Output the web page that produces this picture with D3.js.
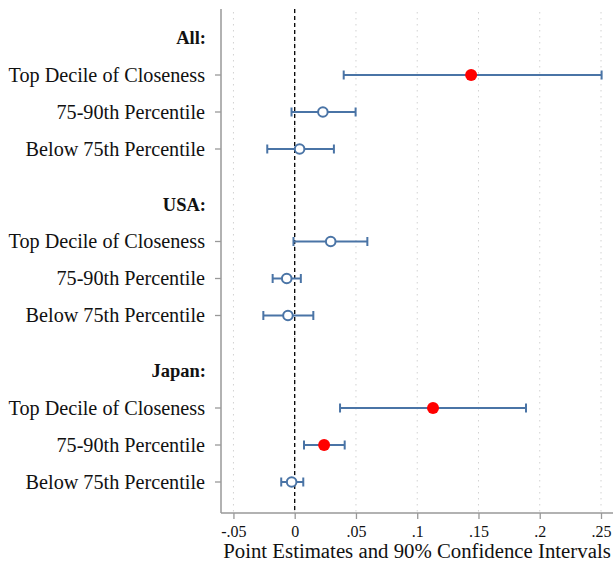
<!DOCTYPE html>
<html><head><meta charset="utf-8">
<script src="https://cdn.jsdelivr.net/npm/d3@7"></script>
<style>
html,body{margin:0;padding:0;background:#fff;}
svg{display:block;}
text{font-family:"Liberation Serif","DejaVu Serif",serif;fill:#111;}
</style></head>
<body>
<script>
// ---- data ----
const groups = ["All:", "USA:", "Japan:"];
const categories = ["Top Decile of Closeness", "75-90th Percentile", "Below 75th Percentile"];
// point estimates, per group (rows = groups, cols = categories)
const estimates = [
  [0.144, 0.023, 0.004],
  [0.0294, -0.0065, -0.0055],
  [0.1129, 0.024, -0.0025]
];
const ciLow = [
  [0.040, -0.0026, -0.0224],
  [-0.001, -0.018, -0.0256],
  [0.037, 0.0076, -0.011]
];
const ciHigh = [
  [0.2505, 0.0497, 0.032],
  [0.0593, 0.005, 0.0152],
  [0.1888, 0.0408, 0.007]
];
// significant at 90% (filled red) vs not (hollow)
const significant = [
  [true, false, false],
  [false, false, false],
  [true, true, false]
];
const xTicks = [-0.05, 0, 0.05, 0.1, 0.15, 0.2, 0.25];
const xTickLabels = ["-.05", "0", ".05", ".1", ".15", ".2", ".25"];
const xTitle = "Point Estimates and 90% Confidence Intervals";

// ---- layout ----
const W = 613, H = 565;
const plotLeft = 221, plotTop = 9, plotBottom = 513;

// build rows: heading then categories; gap of 0.5 slot before later headings
const rows = [];
let u = 0;
groups.forEach((g, gi) => {
  if (gi > 0) u += 0.5;
  rows.push({type: "head", label: g, u: u});
  u += 1;
  categories.forEach((c, ci) => {
    rows.push({type: "cat", label: c, u: u, est: estimates[gi][ci], lo: ciLow[gi][ci], hi: ciHigh[gi][ci], sig: significant[gi][ci]});
    u += 1;
  });
});

const x = d3.scaleLinear().domain([0, 0.25]).range([294.7, 601]);
const y = d3.scaleLinear().domain([0, 12]).range([38, 482]);

const svg = d3.select("body").append("svg").attr("width", W).attr("height", H);

// gridlines
svg.append("g").selectAll("line").data(xTicks).join("line")
  .attr("x1", d => x(d)).attr("x2", d => x(d))
  .attr("y1", plotTop + 3).attr("y2", plotBottom)
  .attr("stroke", "#d2d2d2").attr("stroke-width", 1).attr("stroke-dasharray", "1.5,4.5");

// zero reference line
svg.append("line").attr("x1", x(0)).attr("x2", x(0))
  .attr("y1", plotTop).attr("y2", plotBottom)
  .attr("stroke", "#000").attr("stroke-width", 1.3).attr("stroke-dasharray", "4,3");

// axes
const xAxis = d3.axisBottom(x).tickValues(xTicks)
  .tickFormat((d, i) => xTickLabels[i]).tickSize(6).tickSizeOuter(0);
const gx = svg.append("g").attr("transform", `translate(0,${plotBottom})`).call(xAxis);
gx.select(".domain").remove();
gx.selectAll(".tick line").attr("stroke", "#999").attr("stroke-width", 1.3);
gx.selectAll(".tick text").attr("font-size", 16).attr("dy", "0.95em")
  .attr("font-family", "Liberation Serif, serif").attr("fill", "#111");

svg.append("line").attr("x1", plotLeft).attr("x2", W + 5)
  .attr("y1", plotBottom).attr("y2", plotBottom).attr("stroke", "#999").attr("stroke-width", 1.5);
svg.append("line").attr("x1", plotLeft).attr("x2", plotLeft)
  .attr("y1", plotTop).attr("y2", plotBottom).attr("stroke", "#999").attr("stroke-width", 1.5);

// y ticks and labels
const catRows = rows.filter(r => r.type === "cat");
svg.append("g").selectAll("line").data(catRows).join("line")
  .attr("x1", plotLeft - 6).attr("x2", plotLeft)
  .attr("y1", d => y(d.u)).attr("y2", d => y(d.u))
  .attr("stroke", "#999").attr("stroke-width", 1.3);

svg.append("g").selectAll("text").data(rows).join("text")
  .attr("x", d => d.type === "head" ? 206 : 205)
  .attr("y", d => y(d.u))
  .attr("dy", "0.33em")
  .attr("text-anchor", "end")
  .attr("font-size", d => d.type === "head" ? 18.5 : 20.2)
  .attr("font-weight", d => d.type === "head" ? "bold" : "normal")
  .text(d => d.label);

// CI lines
const blue = "#4a74a6";
const ci = svg.append("g");
ci.selectAll("line.ci").data(catRows).join("line").attr("class", "ci")
  .attr("x1", d => x(d.lo)).attr("x2", d => x(d.hi))
  .attr("y1", d => y(d.u)).attr("y2", d => y(d.u))
  .attr("stroke", blue).attr("stroke-width", 2);
["lo", "hi"].forEach(k => {
  ci.selectAll("line.cap" + k).data(catRows).join("line").attr("class", "cap" + k)
    .attr("x1", d => x(d[k])).attr("x2", d => x(d[k]))
    .attr("y1", d => y(d.u) - 4.5).attr("y2", d => y(d.u) + 4.5)
    .attr("stroke", blue).attr("stroke-width", 2);
});

// markers
svg.append("g").selectAll("circle").data(catRows).join("circle")
  .attr("cx", d => x(d.est)).attr("cy", d => y(d.u))
  .attr("r", d => d.sig ? 6 : 4.8)
  .attr("fill", d => d.sig ? "#ff0000" : "#fff")
  .attr("stroke", d => d.sig ? "none" : blue)
  .attr("stroke-width", 2);

// x title
svg.append("text").attr("x", 417).attr("y", 558)
  .attr("text-anchor", "middle").attr("font-size", 20.8)
  .text(xTitle);
</script>
</body></html>
